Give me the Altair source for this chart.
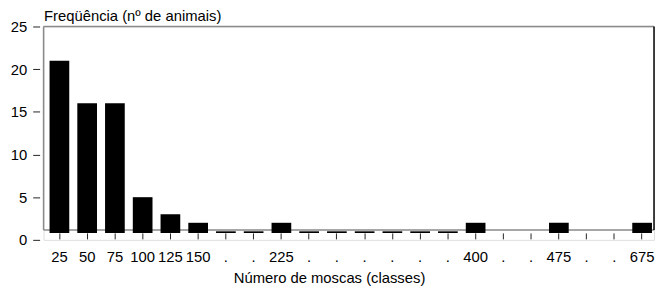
import altair as alt
import pandas as pd

# class labels on the x axis (unlabelled classes are shown as ".")
labels = ["25", "50", "75", "100", "125", "150", ".", ".", "225", ".", ".", ".",
          ".", ".", ".", "400", ".", ".", "475", ".", ".", "675"]
# frequency (number of animals) per class
counts = [21, 16, 16, 5, 3, 2, 1, 1, 2, 1, 1, 1, 1, 1, 1, 2, 0, 0, 2, 0, 0, 2]
y_ticks = [0, 5, 10, 15, 20, 25]

keys = list(range(len(labels)))
df = pd.DataFrame({"k": keys, "lab": labels, "n": counts})

FONT = "Liberation Sans"
W, H = 618, 216
FRAME_BOTTOM = 206
label_expr = "[" + ",".join("'%s'" % s for s in labels) + "][datum.value]"

x = alt.X(
    "k:O",
    scale=alt.Scale(domain=keys, range=[2, 620], paddingInner=0.29, paddingOuter=0.145),
    axis=alt.Axis(
        orient="bottom", offset=-7, domain=False, grid=False,
        tickSize=6, tickColor="#222", tickWidth=1,
        labelExpr=label_expr, labelAngle=0, labelFont=FONT, labelFontSize=15,
        labelColor="black", labelPadding=11,
        title="Número de moscas (classes)", titleFont=FONT, titleFontSize=15,
        titleFontWeight="normal", titleColor="black",
        titleX=289, titleY=50, titleBaseline="alphabetic",
    ),
)
y = alt.Y(
    "n:Q",
    scale=alt.Scale(domain=[0, 25], nice=False, zero=True),
    axis=alt.Axis(
        orient="left", values=y_ticks, offset=4, domain=False, grid=False,
        tickSize=7, tickColor="#222", tickWidth=1,
        labelFont=FONT, labelFontSize=15, labelColor="black", labelPadding=6,
        title="Freqüência (nº de animais)", titleFont=FONT, titleFontSize=15,
        titleFontWeight="normal", titleColor="black", titleAngle=0,
        titleAlign="left", titleBaseline="alphabetic", titleX=4, titleY=-6,
    ),
)

bars = alt.Chart(df).transform_filter("datum.n > 0").mark_bar(
    color="black", stroke=None
).encode(x=x, y=y, y2=alt.datum(0.8))

one = alt.Data(values=[{"a": 1}])
left = alt.Chart(one).mark_rule(color="#8a8a8a", strokeWidth=1.5).encode(
    x=alt.value(0), y=alt.value(0), y2=alt.value(FRAME_BOTTOM))
top = alt.Chart(one).mark_rule(color="#8a8a8a", strokeWidth=1.5).encode(
    x=alt.value(0), x2=alt.value(W), y=alt.value(0))
bottom = alt.Chart(one).mark_rule(color="#8a8a8a", strokeWidth=1.5).encode(
    x=alt.value(0), x2=alt.value(W), y=alt.value(FRAME_BOTTOM))
right = alt.Chart(one).mark_rule(color="black", strokeWidth=1.5).encode(
    x=alt.value(W), y=alt.value(0), y2=alt.value(FRAME_BOTTOM))

chart = alt.layer(bottom, left, top, right, bars).properties(
    width=W, height=H,
    autosize=alt.AutoSizeParams(type="none"),
    padding={"left": 36, "right": 1, "top": 17, "bottom": 46},
).configure_view(stroke=None).configure(background="white")

chart.save("out.html", embed_options={"renderer": "svg", "actions": False})
